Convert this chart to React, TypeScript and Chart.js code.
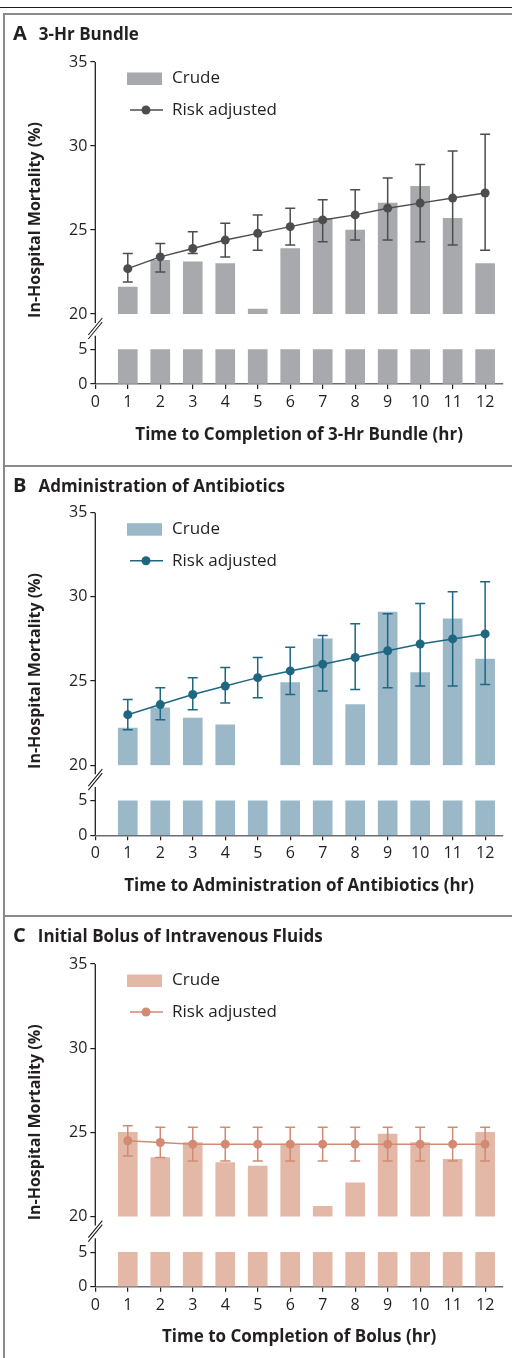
import React, { useEffect, useRef } from "react";
import { Chart, registerables } from "chart.js";

Chart.register(...registerables);

const FONT = '"Open Sans", "Noto Sans", "DejaVu Sans", sans-serif';
const TEXT = "#231F20";

// ---------- data ----------
const hours = [1, 2, 3, 4, 5, 6, 7, 8, 9, 10, 11, 12];
const xTickValues = [0, 1, 2, 3, 4, 5, 6, 7, 8, 9, 10, 11, 12];
const yUpperTicks = [20, 25, 30, 35];
const yLowerTicks = [0, 5];
const lowerSegmentTop = 5;

// Panel A: 3-Hr Bundle
const crudeBundle = [21.6, 23.2, 23.1, 23.0, 20.3, 23.9, 25.7, 25.0, 26.6, 27.6, 25.7, 23.0];
const adjBundle = [22.7, 23.4, 23.9, 24.4, 24.8, 25.2, 25.6, 25.9, 26.3, 26.6, 26.9, 27.2];
const loBundle = [21.9, 22.5, 23.6, 23.4, 23.8, 24.1, 24.3, 24.4, 24.4, 24.3, 24.1, 23.8];
const hiBundle = [23.6, 24.2, 24.9, 25.4, 25.9, 26.3, 26.8, 27.4, 28.1, 28.9, 29.7, 30.7];

// Panel B: Administration of Antibiotics
const crudeAntibiotics = [22.2, 23.4, 22.8, 22.4, null, 24.9, 27.5, 23.6, 29.1, 25.5, 28.7, 26.3];
const adjAntibiotics = [23.0, 23.6, 24.2, 24.7, 25.2, 25.6, 26.0, 26.4, 26.8, 27.2, 27.5, 27.8];
const loAntibiotics = [22.1, 22.7, 23.3, 23.7, 24.0, 24.2, 24.4, 24.5, 24.6, 24.7, 24.7, 24.8];
const hiAntibiotics = [23.9, 24.6, 25.2, 25.8, 26.4, 27.0, 27.7, 28.4, 29.0, 29.6, 30.3, 30.9];

// Panel C: Initial Bolus of Intravenous Fluids
const crudeBolus = [25.0, 23.5, 24.4, 23.2, 23.0, 24.3, 20.6, 22.0, 24.9, 24.4, 23.4, 25.0];
const adjBolus = [24.5, 24.4, 24.3, 24.3, 24.3, 24.3, 24.3, 24.3, 24.3, 24.3, 24.3, 24.3];
const loBolus = [23.6, 23.5, 23.3, 23.3, 23.3, 23.3, 23.3, 23.3, 23.3, 23.3, 23.3, 23.3];
const hiBolus = [25.4, 25.3, 25.3, 25.3, 25.3, 25.3, 25.3, 25.3, 25.3, 25.3, 25.3, 25.3];

type Spec = {
  letter: string;
  title: string;
  xTitle: string;
  crude: (number | null)[];
  adjusted: number[];
  lo: number[];
  hi: number[];
  upperBase: number;
  barColor: string;
  lineColor: string;
  top: number;
  height: number;
  chartTop: number;
  chartBottom: number;
};

const panels: Spec[] = [
  {
    letter: "A", title: "3-Hr Bundle", xTitle: "Time to Completion of 3-Hr Bundle (hr)",
    crude: crudeBundle, adjusted: adjBundle, lo: loBundle, hi: hiBundle, upperBase: 20,
    barColor: "#A7A9AC", lineColor: "#4D4D4F",
    top: 13, height: 452, chartTop: 49, chartBottom: 371,
  },
  {
    letter: "B", title: "Administration of Antibiotics", xTitle: "Time to Administration of Antibiotics (hr)",
    crude: crudeAntibiotics, adjusted: adjAntibiotics, lo: loAntibiotics, hi: hiAntibiotics, upperBase: 20,
    barColor: "#9BB8C9", lineColor: "#1F6781",
    top: 465, height: 450, chartTop: 47.7, chartBottom: 370.3,
  },
  {
    letter: "C", title: "Initial Bolus of Intravenous Fluids", xTitle: "Time to Completion of Bolus (hr)",
    crude: crudeBolus, adjusted: adjBolus, lo: loBolus, hi: hiBolus, upperBase: 19.8,
    barColor: "#E3B8A7", lineColor: "#D38A72",
    top: 915, height: 443, chartTop: 49, chartBottom: 371.7,
  },
];

const X_SCALE_HEIGHT = 70;
const Y_SCALE_WIDTH = 40;
const UPPER_WEIGHT = 252;
const LOWER_WEIGHT = 70;
const LOWER_MAX = 10.2;

function PanelChart({ spec }: { spec: Spec }) {
  const ref = useRef<HTMLCanvasElement>(null);

  useEffect(() => {
    const canvas = ref.current;
    if (!canvas) return;
    const padBottom = spec.height - spec.chartBottom - X_SCALE_HEIGHT;

    const decorations = {
      id: "decorations",
      beforeDatasetDraw(chart: any, args: any) {
        if (args.index !== 0) return;
        const ctx = chart.ctx;
        const xs = chart.scales.x;
        const ys = chart.scales.yTop;
        ctx.save();
        ctx.strokeStyle = spec.lineColor;
        ctx.lineWidth = 1.5;
        hours.forEach((h, i) => {
          const px = xs.getPixelForValue(h);
          const pLo = ys.getPixelForValue(spec.lo[i]);
          const pHi = ys.getPixelForValue(spec.hi[i]);
          ctx.beginPath();
          ctx.moveTo(px, pLo);
          ctx.lineTo(px, pHi);
          ctx.moveTo(px - 5, pLo);
          ctx.lineTo(px + 5, pLo);
          ctx.moveTo(px - 5, pHi);
          ctx.lineTo(px + 5, pHi);
          ctx.stroke();
        });
        ctx.restore();
      },
      afterDraw(chart: any) {
        const ctx = chart.ctx;
        const { left, top, bottom } = chart.chartArea;
        const yTop = chart.scales.yTop;
        const yBot = chart.scales.yBot;
        const p20 = yTop.getPixelForValue(20);
        const p35 = yTop.getPixelForValue(35);
        const p0 = yBot.getPixelForValue(0);
        const p5 = yBot.getPixelForValue(5);
        ctx.save();
        // y axis with break
        ctx.strokeStyle = TEXT;
        ctx.lineWidth = 1.3;
        ctx.beginPath();
        ctx.moveTo(left, p35);
        ctx.lineTo(left, p20 + 9);
        ctx.moveTo(left, p5 - 14);
        ctx.lineTo(left, p0);
        ctx.stroke();
        ctx.lineWidth = 1.1;
        ctx.beginPath();
        ctx.moveTo(left - 7, p20 + 25);
        ctx.lineTo(left + 7, p20 + 8);
        ctx.moveTo(left - 7, p20 + 21);
        ctx.lineTo(left + 7, p20 + 4);
        ctx.stroke();

        // y title
        ctx.fillStyle = TEXT;
        ctx.font = `bold 16px ${FONT}`;
        ctx.textAlign = "center";
        ctx.textBaseline = "middle";
        ctx.translate(35, (top + bottom) / 2 - 3);
        ctx.rotate(-Math.PI / 2);
        ctx.fillText("In-Hospital Mortality (%)", 0, 0);
        ctx.restore();

        // legend
        ctx.save();
        ctx.fillStyle = spec.barColor;
        ctx.fillRect(left + 31.7, top + 10.5, 35, 12.5);
        ctx.strokeStyle = spec.lineColor;
        ctx.lineWidth = 1.5;
        ctx.beginPath();
        ctx.moveTo(left + 34.7, top + 48);
        ctx.lineTo(left + 67.7, top + 48);
        ctx.stroke();
        ctx.fillStyle = spec.lineColor;
        ctx.beginPath();
        ctx.arc(left + 50.7, top + 48, 4.5, 0, Math.PI * 2);
        ctx.fill();
        ctx.fillStyle = TEXT;
        ctx.font = `17px ${FONT}`;
        ctx.textAlign = "left";
        ctx.textBaseline = "middle";
        ctx.fillText("Crude", left + 76.7, top + 16.5);
        ctx.fillText("Risk adjusted", left + 76.7, top + 48);
        ctx.restore();
      },
    };

    const tickFont = { family: FONT, size: 16 };

    const chart = new Chart(canvas, {
      type: "bar",
      data: {
        datasets: [
          {
            type: "line",
            label: "Risk adjusted",
            data: hours.map((h, i) => ({ x: h, y: spec.adjusted[i] })),
            xAxisID: "x",
            yAxisID: "yTop",
            borderColor: spec.lineColor,
            backgroundColor: spec.lineColor,
            pointBackgroundColor: spec.lineColor,
            pointBorderWidth: 0,
            pointRadius: 4.5,
            borderWidth: 1.5,
            tension: 0,
            order: 0,
          } as any,
          {
            type: "bar",
            label: "Crude",
            data: hours
              .map((h, i) => ({ h, v: spec.crude[i] }))
              .filter((d) => d.v !== null)
              .map((d) => ({ x: d.h, y: [spec.upperBase, d.v as number] })),
            xAxisID: "x",
            yAxisID: "yTop",
            backgroundColor: spec.barColor,
            barThickness: 19,
            grouped: false,
            order: 1,
          } as any,
          {
            type: "bar",
            label: "Crude (axis break segment)",
            data: hours.map((h) => ({ x: h, y: [0, lowerSegmentTop] })),
            xAxisID: "x",
            yAxisID: "yBot",
            backgroundColor: spec.barColor,
            barThickness: 19,
            grouped: false,
            order: 2,
          } as any,
        ],
      },
      options: {
        responsive: false,
        animation: false,
        events: [],
        layout: {
          padding: { top: spec.chartTop, bottom: padBottom, left: 95.3 - Y_SCALE_WIDTH, right: 9 },
        },
        plugins: {
          legend: { display: false },
          tooltip: { enabled: false },
          title: { display: false },
        },
        scales: {
          x: {
            type: "linear",
            position: "bottom",
            min: 0,
            max: 12.55,
            offset: false,
            afterBuildTicks: (s: any) => {
              s.ticks = xTickValues.map((v) => ({ value: v }));
            },
            afterFit: (s: any) => {
              s.height = X_SCALE_HEIGHT;
              s.paddingLeft = 0;
              s.paddingRight = 0;
            },
            grid: { offset: false, drawOnChartArea: false, drawTicks: true, tickLength: 5, color: TEXT, lineWidth: 1.2 },
            border: { display: true, color: "#6D6E71", width: 1.6 },
            ticks: { color: TEXT, font: tickFont, padding: 4, maxRotation: 0, autoSkip: false },
            title: {
              display: true,
              text: spec.xTitle,
              color: TEXT,
              font: { family: FONT, size: 17, weight: "bold" },
              padding: { top: 0, bottom: 9 },
            },
          },
          yBot: {
            type: "linear",
            axis: "y",
            position: "left",
            stack: "broken",
            stackWeight: LOWER_WEIGHT,
            min: 0,
            max: LOWER_MAX,
            afterBuildTicks: (s: any) => {
              s.ticks = yLowerTicks.map((v) => ({ value: v }));
            },
            afterFit: (s: any) => {
              s.width = Y_SCALE_WIDTH;
              s.paddingTop = 0;
              s.paddingBottom = 0;
            },
            grid: { drawOnChartArea: false, drawTicks: true, tickLength: 5, color: TEXT, lineWidth: 1.2 },
            border: { display: false },
            ticks: { color: TEXT, font: tickFont, padding: 3 },
          },
          yTop: {
            type: "linear",
            axis: "y",
            position: "left",
            stack: "broken",
            stackWeight: UPPER_WEIGHT,
            min: 20,
            max: 35,
            afterBuildTicks: (s: any) => {
              s.ticks = yUpperTicks.map((v) => ({ value: v }));
            },
            afterFit: (s: any) => {
              s.width = Y_SCALE_WIDTH;
              s.paddingTop = 0;
              s.paddingBottom = 0;
            },
            grid: { drawOnChartArea: false, drawTicks: true, tickLength: 5, color: TEXT, lineWidth: 1.2 },
            border: { display: false },
            ticks: { color: TEXT, font: tickFont, padding: 3 },
          },
        } as any,
      },
      plugins: [decorations],
    });

    return () => chart.destroy();
  }, [spec]);

  return (
    <canvas
      ref={ref}
      width={512}
      height={spec.height}
      style={{ position: "absolute", left: 0, top: spec.top, width: 512, height: spec.height }}
    />
  );
}

export default function App() {
  return (
    <div
      style={{
        position: "absolute",
        left: 0,
        top: 0,
        width: 512,
        height: 1358,
        overflow: "hidden",
        background: "#fff",
        fontFamily: FONT,
        color: TEXT,
      }}
    >
      <div style={{ position: "absolute", left: 0, top: 6.5, width: 512, height: 1.5, background: TEXT }} />
      <div style={{ position: "absolute", left: 3, top: 13, width: 2, height: 1345, background: "#8A8A8A" }} />
      {panels.map((p) => (
        <div key={p.letter + "-rule"} style={{ position: "absolute", left: 3, top: p.top, width: 509, height: 2, background: "#8A8A8A" }} />
      ))}
      {panels.map((p) => (
        <PanelChart key={p.letter} spec={p} />
      ))}
      {panels.map((p) => (
        <div
          key={p.letter + "-title"}
          style={{ position: "absolute", left: 13, top: p.top + 10, whiteSpace: "nowrap", lineHeight: "20px", fontWeight: 700 }}
        >
          <span style={{ fontSize: 20 }}>{p.letter}</span>
          <span style={{ fontSize: 17, marginLeft: 12 }}>{p.title}</span>
        </div>
      ))}
    </div>
  );
}
